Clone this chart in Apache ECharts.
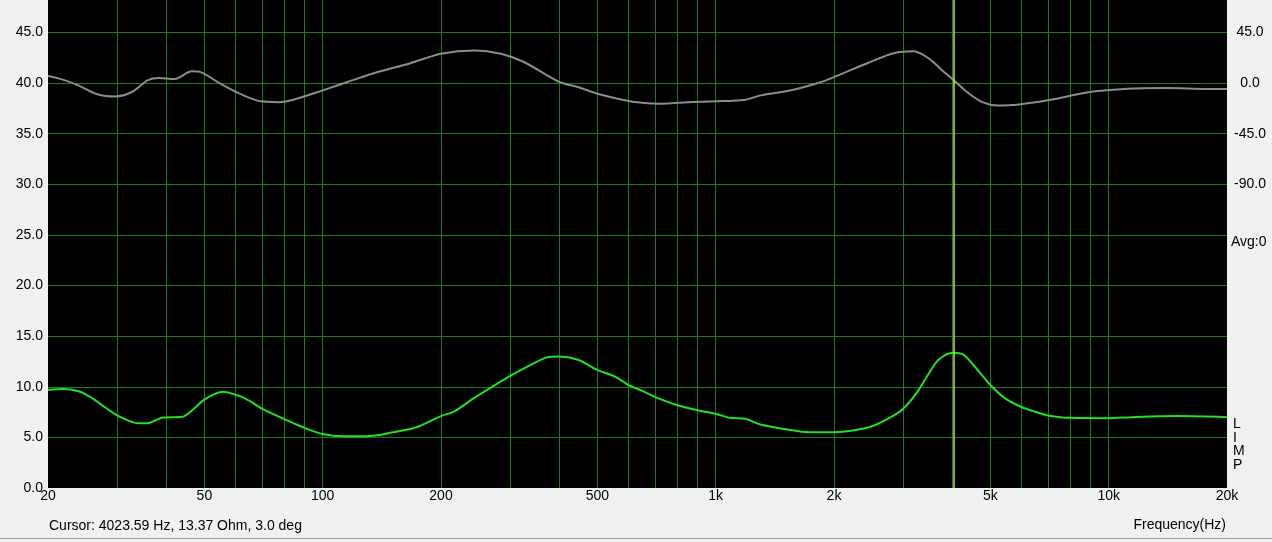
<!DOCTYPE html>
<html>
<head>
<meta charset="utf-8">
<script src="https://cdn.jsdelivr.net/npm/echarts@6/dist/echarts.min.js"></script>
<style>
    html, body { margin: 0; padding: 0; background: #f0f0f0; }
    #chart { width: 1272px; height: 542px; }
</style>
</head>
<body>
<div id="chart"></div>
<script>
    // impedance curve (Ohm)
    var impFreq = [20, 21.8, 23.9, 25.6, 27.4, 29.6, 32, 33.9, 35.9, 37.5, 39.2, 43.9, 47, 50, 55.6, 61.5, 65.8, 70, 77.1, 84.3,
        90, 100, 113, 132, 151, 173, 200, 217, 243, 278, 300, 348, 372, 400, 446, 500, 559, 600, 646, 700,
        800, 900, 1000, 1087, 1190, 1300, 1490, 1740, 2000, 2230, 2490, 2790, 3000, 3260, 3490, 3690, 4020, 4270, 4560, 5000,
        5460, 6000, 6530, 7000, 8000, 10000, 11440, 15000, 20000];
    var impOhm = [9.67, 9.77, 9.55, 9.0, 8.2, 7.3, 6.67, 6.4, 6.4, 6.67, 6.97, 7.03, 7.83, 8.73, 9.5, 9.07, 8.5, 7.83, 7.07, 6.4,
        5.93, 5.33, 5.1, 5.13, 5.5, 6.0, 7.1, 7.6, 8.9, 10.3, 11.07, 12.4, 12.9, 13.0, 12.67, 11.67, 10.93, 10.17, 9.65, 9.0,
        8.17, 7.67, 7.33, 6.93, 6.83, 6.27, 5.83, 5.5, 5.5, 5.67, 6.07, 7.0, 7.83, 9.5, 11.33, 12.67, 13.37, 13.17, 12.0, 10.17,
        8.83, 8.0, 7.5, 7.17, 6.93, 6.9, 7.0, 7.1, 7.0];

    // phase curve (deg)
    var phaseFreq = [20, 21.8, 23.9, 26.7, 29.6, 32.7, 35.9, 38.3, 42, 46.4, 49.1, 54.9, 61.5, 69.6, 77, 84.3, 100, 115.5, 138, 165.6,
        200, 243, 284, 325, 400, 446, 500, 600, 650, 726, 850, 1000, 1190, 1300, 1555, 1820, 2000, 2440, 2850, 3190,
        3490, 3810, 4020, 4360, 4770, 5220, 5840, 7000, 8940, 11200, 14000, 17900, 20000];
    var phaseDeg = [6.2, 3.0, -2.1, -10, -12, -8.0, 2.5, 4.5, 3.5, 10.4, 9.5, -0.6, -9.5, -16.3, -17, -14.8, -6.5, 0.9, 9.8, 17.2,
        26, 29, 26, 18.7, 0.9, -3.6, -9.5, -16, -17.5, -18.4, -17, -16.3, -14.8, -11, -6.5, 0, 5.3, 17.8, 26.7, 28.2,
        21.7, 9.8, 3.0, -8, -17, -19.9, -19.3, -15.4, -8, -5, -4.5, -5.3, -5.3];

    var xLabels = [20, 50, 100, 200, 500, 1000, 2000, 5000, 10000, 20000];
    var gridFreqs = [30, 40, 50, 60, 70, 80, 90, 100, 200, 300, 400, 500, 600, 700, 800, 900, 1000,
        2000, 3000, 4000, 5000, 6000, 7000, 8000, 9000, 10000];
    var cursorFreq = 4023.59;

    var font = 'Liberation Sans, Arial, sans-serif';
    var gridGreen = '#1d7a1d';

    function pairs(xs, ys) {
        return xs.map(function (x, i) { return [x, ys[i]]; });
    }

    var chart = echarts.init(document.getElementById('chart'));
    chart.setOption({
        backgroundColor: '#f0f0f0',
        animation: false,
        grid: {
            left: 48,
            right: 45,
            top: 0,
            bottom: 54,
            show: true,
            backgroundColor: '#000',
            borderWidth: 0
        },
        xAxis: {
            type: 'log',
            logBase: 10,
            min: 20,
            max: 20000,
            axisLine: { show: false },
            axisTick: { show: false },
            splitLine: { show: false },
            axisLabel: {
                customValues: xLabels,
                margin: 1,
                color: '#000',
                fontFamily: font,
                fontSize: 14,
                formatter: function (v) {
                    v = Math.round(v);
                    return v >= 1000 ? (v / 1000) + 'k' : String(v);
                }
            }
        },
        yAxis: [
            {
                type: 'value',
                min: 0,
                max: 48.2,
                interval: 5,
                axisLine: { show: false },
                axisTick: { show: false },
                axisLabel: {
                    margin: 5,
                    color: '#000',
                    fontFamily: font,
                    fontSize: 14,
                    formatter: function (v) {
                        return Math.abs(v % 5) < 1e-6 ? v.toFixed(1) : '';
                    }
                },
                splitLine: {
                    show: true,
                    showMinLine: false,
                    showMaxLine: false,
                    lineStyle: { color: gridGreen, width: 1 }
                }
            },
            {
                type: 'value',
                position: 'right',
                min: -360,
                max: 48.2 * 9 - 360,
                interval: 45,
                axisLine: { show: false },
                axisTick: { show: false },
                splitLine: { show: false },
                axisLabel: {
                    margin: 23,
                    align: 'center',
                    color: '#000',
                    fontFamily: font,
                    fontSize: 14,
                    formatter: function (v) {
                        return (v >= -90 && Math.abs(v % 45) < 1e-6) ? v.toFixed(1) : '';
                    }
                }
            }
        ],
        series: [
            {
                name: 'Phase',
                type: 'line',
                yAxisIndex: 1,
                data: pairs(phaseFreq, phaseDeg),
                showSymbol: false,
                smooth: 0.3,
                lineStyle: { color: '#8c8c8c', width: 2 },
                z: 3,
                // vertical frequency grid
                markLine: {
                    silent: true,
                    z: 1,
                    symbol: 'none',
                    label: { show: false },
                    lineStyle: { color: gridGreen, width: 1, type: 'solid' },
                    data: gridFreqs.map(function (f) { return { xAxis: f }; })
                }
            },
            {
                name: 'Impedance',
                type: 'line',
                yAxisIndex: 0,
                data: pairs(impFreq, impOhm),
                showSymbol: false,
                smooth: 0.3,
                lineStyle: { color: '#22e022', width: 2 },
                z: 4,
                markLine: {
                    silent: true,
                    z: 6,
                    symbol: 'none',
                    label: { show: false },
                    lineStyle: { color: '#c4dc5a', width: 1.5, type: 'solid' },
                    data: [{ xAxis: cursorFreq }]
                }
            }
        ],
        graphic: [
            {
                type: 'text', left: 49, top: 519,
                style: { text: 'Cursor: 4023.59 Hz, 13.37 Ohm, 3.0 deg', fill: '#000', font: '14px ' + font }
            },
            {
                type: 'text', right: 46, top: 518,
                style: { text: 'Frequency(Hz)', fill: '#000', font: '14px ' + font }
            },
            {
                type: 'text', left: 1231, top: 235,
                style: { text: 'Avg:0', fill: '#000', font: '14px ' + font }
            },
            {
                type: 'text', left: 1233, top: 417,
                style: { text: 'L\nI\nM\nP', fill: '#000', font: '14px ' + font, lineHeight: 13.7 }
            },
            {
                type: 'rect', left: 0, top: 538,
                shape: { width: 1272, height: 1 },
                style: { fill: '#a0a0a0' }
            }
        ]
    });
</script>
</body>
</html>
